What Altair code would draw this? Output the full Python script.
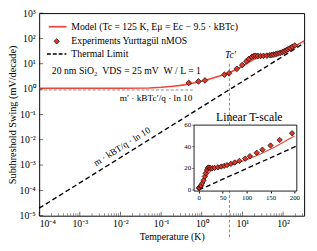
import altair as alt
import pandas as pd

# ---------------- data ----------------
# experimental points (Temperature K, Swing mV/decade)
exp_T = [0.48, 0.83, 1.2, 3.6, 4.7, 7.3, 9.9, 12.5, 14.5, 17, 19, 21, 24, 28, 33, 40, 47,
         53, 59, 67, 75, 85, 97, 107, 121, 133, 150, 169, 195]
exp_S = [1.75, 2.0, 2.2, 3.7, 4.2, 6.3, 8.9, 12.5, 15.5, 18.5, 20.5, 20.8, 20.3, 20.2, 20.5,
         21, 21.7, 22.3, 23, 24.2, 25.4, 26.9, 29, 31.3, 34.4, 37.3, 41.2, 46.3, 52.5]

# model curve
mod_T = [1e-4, 1e-2, 0.05, 0.1, 0.2, 0.3, 0.5, 0.7, 1, 1.5, 2, 3, 4, 5, 7, 10, 14, 20, 25,
         30, 40, 50, 70, 100, 130, 160, 200, 250, 330]
mod_S = [1.07, 1.07, 1.1, 1.17, 1.3, 1.4, 1.6, 1.8, 2.05, 2.45, 2.8, 3.4, 4.0, 4.6, 5.9, 8.0,
         11, 15.5, 17.5, 18.8, 20.2, 21.3, 23.5, 28, 33.5, 40, 50, 62, 80]

# thermal limit line endpoints (m = 1)
th_T = [1e-4, 330]
th_S = [1.984e-5, 65.5]
th_in_T = [0, 205]
th_in_S = [0, 40.7]

# annotations
tc_prime = [4.8]
tc_top = [10]
plateau_T0 = [1e-4]
plateau_T1 = [0.6]
plateau_S = [0.92]

x_major = [1e-4, 1e-3, 1e-2, 1e-1, 1, 10, 100]
y_major = [1e-5, 1e-4, 1e-3, 1e-2, 1e-1, 1, 10, 100, 1000]
x_minor = [m * 10.0 ** e for e in range(-4, 3) for m in range(2, 10) if m * 10.0 ** e <= 330]

inset_x_ticks = [0, 50, 100, 150, 200]
inset_y_ticks = [0, 20, 40, 60]

# ---------------- styling ----------------
FONT = "Liberation Serif"
RED_LINE = "#f0453a"
RED_PT = "#d83a2c"
W, H = 272, 208
NB = "\u00a0"

exp_df = pd.DataFrame({"T": exp_T, "S": exp_S})
mod_df = pd.DataFrame({"T": mod_T, "S": mod_S})
th_df = pd.DataFrame({"T": th_T, "S": th_S})
th_in_df = pd.DataFrame({"T": th_in_T, "S": th_in_S})
mod_in_df = mod_df[mod_df["T"] <= 205]
one = pd.DataFrame({"a": [0]})

sup = {"-": "⁻", "0": "⁰", "1": "¹", "2": "²", "3": "³", "4": "⁴", "5": "⁵",
       "6": "⁶", "7": "⁷", "8": "⁸", "9": "⁹"}


def sup_expr(exps):
    parts = []
    for e in exps:
        s = "".join(sup[c] for c in str(e))
        parts.append(f"round(log(datum.value)/LN10) == {e} ? '10{s}'")
    return " : ".join(parts) + " : ''"


xs = alt.Scale(type="log", domain=[1e-4, 330])
ys = alt.Scale(type="log", domain=[1e-5, 1e3])

x_axis = alt.Axis(values=x_major, labelExpr=sup_expr(range(-4, 3)), ticks=False, domain=False,
                  grid=False, labelFont=FONT, labelFontSize=10, labelPadding=3,
                  labelColor="black", title="Temperature (K)", titleFont=FONT,
                  titleFontSize=10, titleFontWeight="normal", titlePadding=3,
                  titleColor="black", orient="bottom")
y_axis = alt.Axis(values=y_major, labelExpr=sup_expr(range(-5, 4)), ticks=False, domain=False,
                  grid=False, labelFont=FONT, labelFontSize=10, labelPadding=4,
                  labelColor="black", title="Subthreshold Swing (mV/decade)", titleFont=FONT,
                  titleFontSize=10.5, titleFontWeight="normal", titlePadding=2,
                  titleColor="black", orient="left")

X = alt.X("T:Q", scale=xs, axis=x_axis)
Y = alt.Y("S:Q", scale=ys, axis=y_axis)

thermal = alt.Chart(th_df).mark_line(color="black", strokeWidth=1.4, strokeDash=[5, 3]).encode(x=X, y=Y)

plateau = alt.Chart(pd.DataFrame({"T0": plateau_T0, "T1": plateau_T1, "S": plateau_S})).mark_rule(
    color="#555555", strokeWidth=0.7, strokeDash=[3, 2]).encode(
    x=alt.X("T0:Q", scale=xs, axis=x_axis), x2="T1:Q", y=alt.Y("S:Q", scale=ys, axis=y_axis))

model = alt.Chart(mod_df).mark_line(color=RED_LINE, strokeWidth=1.6).encode(x=X, y=Y)

points = alt.Chart(exp_df).mark_point(shape="diamond", filled=True, fill=RED_PT, stroke="#2a0a0a",
                                      strokeWidth=0.8, size=34, opacity=1).encode(x=X, y=Y)

vline = alt.Chart(pd.DataFrame({"T": tc_prime, "S": tc_top})).mark_rule(
    color="#555555", strokeWidth=0.7, strokeDash=[3, 2]).encode(x=X, y=Y, y2=alt.value(230))

xt_major = alt.Chart(pd.DataFrame({"T": x_major})).mark_tick(
    orient="vertical", color="black", size=4, thickness=0.8).encode(x=X, y=alt.value(H - 2))
xt_minor = alt.Chart(pd.DataFrame({"T": x_minor})).mark_tick(
    orient="vertical", color="black", size=2.4, thickness=0.6).encode(x=X, y=alt.value(H - 1.2))
yt_major = alt.Chart(pd.DataFrame({"S": y_major})).mark_tick(
    orient="horizontal", color="black", size=4, thickness=0.8).encode(y=Y, x=alt.value(2))

tc_label = alt.Chart(pd.DataFrame({"T": tc_prime, "S": tc_top})).mark_text(
    font=FONT, fontSize=10, fontStyle="italic", dy=-9, dx=1, color="black").encode(
    x=X, y=Y, text=alt.value("Tc′"))

plateau_label = alt.Chart(one).mark_text(font=FONT, fontSize=9.5, color="black", align="center").encode(
    x=alt.value(120), y=alt.value(87), text=alt.value("m′ · kBTc′/q · ln 10"))

thermal_label = alt.Chart(one).mark_text(font=FONT, fontSize=9.5, color="black", angle=328,
                                         align="center").encode(
    x=alt.value(85), y=alt.value(137), text=alt.value("m · kBT/q · ln 10"))

# legend (drawn manually)
leg_model = alt.Chart(one).mark_rule(color=RED_LINE, strokeWidth=1.8).encode(
    x=alt.value(10), x2=alt.value(28), y=alt.value(14))
leg_pt = alt.Chart(one).mark_point(shape="diamond", filled=True, fill=RED_PT, stroke="#2a0a0a",
                                   strokeWidth=0.8, size=30, opacity=1).encode(
    x=alt.value(18), y=alt.value(29))
leg_th = alt.Chart(one).mark_rule(color="black", strokeWidth=1.4, strokeDash=[4, 2]).encode(
    x=alt.value(8), x2=alt.value(28), y=alt.value(42))
legend_texts = [
    (33, 14, "Model (Tc = 125 K, Eμ = Ec − 9.5 · kBTc)"),
    (33, 29, "Experiments Yurttagül nMOS"),
    (33, 42, "Thermal Limit"),
    (13, 60, f"20 nm SiO₂ {NB}VDS = 25 mV {NB}W / L = 1"),
]
leg_txt = [alt.Chart(one).mark_text(font=FONT, fontSize=10, align="left", baseline="middle",
                                    color="black").encode(
    x=alt.value(xx), y=alt.value(yy), text=alt.value(tt)) for xx, yy, tt in legend_texts]

main = alt.layer(thermal, plateau, model, points, vline, xt_major, xt_minor, yt_major,
                 tc_label, plateau_label, thermal_label, leg_model, leg_pt, leg_th, *leg_txt)

# ---------------- inset ----------------
IX0, IX1, IY0, IY1 = 159, 264.5, 115, 182.7
ixs = alt.Scale(domain=[-10, 205], range=[IX0, IX1], nice=False, zero=False)
iys = alt.Scale(domain=[-1, 60], range=[IY1, IY0], nice=False, zero=False)
ix_axis = alt.Axis(values=inset_x_ticks, orient="bottom", offset=-(H - IY1), domain=False, grid=False,
                   tickSize=2, tickColor="black", labelFont=FONT, labelFontSize=7, labelPadding=1,
                   labelColor="black", title=None)
IXE = alt.X("T:Q", scale=ixs, axis=ix_axis)
IYE = alt.Y("S:Q", scale=iys, axis=None)

bg = alt.Chart(one).mark_rect(fill="white", stroke="black", strokeWidth=0.9).encode(
    x=alt.value(IX0), x2=alt.value(IX1), y=alt.value(IY0), y2=alt.value(IY1))
in_th = alt.Chart(th_in_df).mark_line(color="black", strokeWidth=1.4, strokeDash=[5, 3]).encode(x=IXE, y=IYE)
in_mod = alt.Chart(mod_in_df).mark_line(color=RED_LINE, strokeWidth=1.2).encode(x=IXE, y=IYE)
in_pts = alt.Chart(exp_df).mark_point(shape="diamond", filled=True, fill=RED_PT, stroke="#2a0a0a",
                                      strokeWidth=0.8, size=30, opacity=1).encode(x=IXE, y=IYE)
iy_df = pd.DataFrame({"S": inset_y_ticks})
in_yticks = alt.Chart(iy_df).mark_tick(orient="horizontal", color="black", size=2, thickness=0.7).encode(
    y=IYE, x=alt.value(IX0 - 1))
in_ylabels = alt.Chart(iy_df).mark_text(font=FONT, fontSize=7, align="right", baseline="middle",
                                        color="black").encode(
    y=IYE, x=alt.value(IX0 - 3), text=alt.Text("S:Q"))
in_title = alt.Chart(one).mark_text(font=FONT, fontSize=12, color="black", align="center",
                                    baseline="middle").encode(
    x=alt.value((IX0 + IX1) / 2 + 4), y=alt.value(IY0 - 8), text=alt.value("Linear T-scale"))

inset = alt.layer(bg, in_th, in_mod, in_pts, in_yticks, in_ylabels, in_title)

chart = alt.layer(main, inset).resolve_scale(x="independent", y="independent").resolve_axis(
    x="independent", y="independent").properties(
    width=W, height=H, autosize=alt.AutoSizeParams(type="none"),
    padding={"left": 32, "top": 2, "right": 5, "bottom": 33},
    background="white").configure_view(stroke="black", strokeWidth=1)

chart.save("out.html", embed_options={"renderer": "svg", "actions": False})
